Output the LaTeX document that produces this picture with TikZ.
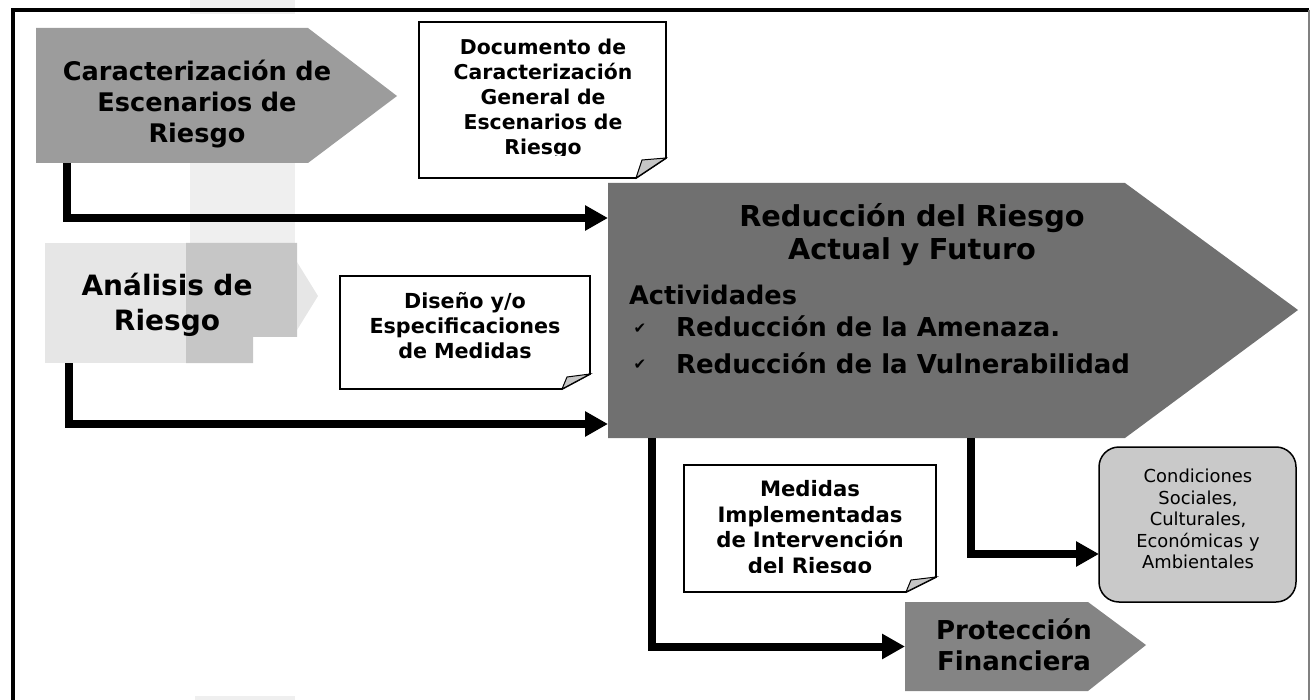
\documentclass[tikz,border=0pt]{standalone}
\usepackage{fontspec}
\setmainfont{DejaVu Sans}
\usetikzlibrary{arrows.meta,calc}
\definecolor{gA}{HTML}{9C9C9C}
\definecolor{gB}{HTML}{707070}
\definecolor{gC}{HTML}{848484}
\definecolor{gD}{HTML}{C9C9C9}
\definecolor{gL}{HTML}{E6E6E6}
\definecolor{gM}{HTML}{C6C6C6}
\definecolor{gS}{HTML}{EFEFEF}
\tikzset{
  x=1pt,y=-1pt,
  flow/.style={line width=8pt,-{Triangle[length=23pt,width=24pt]},black},
  notebox/.style={draw=black,line width=1.8pt,fill=white,line join=miter},
  foldmark/.style={draw=black,line width=1pt,fill=gray!45},
  holder/.style={inner sep=0pt,outer sep=0pt,align=center,text=black},
  tb/.style 2 args={font=\bfseries\fontsize{#1}{#2}\selectfont},
  tr/.style 2 args={font=\fontsize{#1}{#2}\selectfont},
}
\begin{document}
\begin{tikzpicture}
\useasboundingbox (0,0) rectangle (1311,700);
% scan smudges
\fill[gS] (190,0) rectangle (295,243);
\fill[white] (190,14) rectangle (295,28);
\fill[gS] (195,696) rectangle (295,700);
% frame
\draw[line width=3.5pt] (13,700) -- (13,10) -- (1309,10);
\draw[line width=1.5pt,gray] (1309,10) -- (1309,700);
% Caracterizacion
\fill[gA] (36,28) -- (308,28) -- (397,96) -- (308,163) -- (36,163) -- cycle;
\node[holder,minimum width=361pt,minimum height=135pt] (car) at (216.5,95.5) {};
\node[holder,tb={25.6}{31},text width=300pt] (cartxt) at (197,104) {Caracterización de\\Escenarios de\\Riesgo};
% Documento note
\draw[notebox] (419,22) -- (666,22) -- (666,158) -- (636,178) -- (419,178) -- cycle;
\draw[foldmark] (666,158) -- (636,178) -- (642,160) -- cycle;
\begin{scope}
\clip (419,22) rectangle (666,155.5);
\node[holder,tb={20.4}{25},text width=240pt] (doc) at (543,98.5) {Documento de\\Caracterización\\General de\\Escenarios de\\Riesgo};
\end{scope}
% Analisis
\fill[gL] (45,243) -- (186,243) -- (186,363) -- (45,363) -- cycle;
\fill[gM] (186,243) -- (297,243) -- (297,337) -- (253,337) -- (253,363) -- (186,363) -- cycle;
\fill[gL] (297,262) -- (318,296) -- (297,330) -- cycle;
\node[holder,minimum width=273pt,minimum height=120pt] (ana) at (181.5,303) {};
\node[holder,tb={28}{35},text width=260pt] (anatxt) at (167,305) {Análisis de\\Riesgo};
% Diseno note
\draw[notebox] (340,276) -- (590,276) -- (590,374) -- (562,389) -- (340,389) -- cycle;
\draw[foldmark] (590,374) -- (562,389) -- (567,377) -- cycle;
\node[holder,tb={20.7}{25},text width=240pt] (dis) at (465,326) {Diseño y/o\\Especificaciones\\de Medidas};
% Reduccion
\fill[gB] (608,183) -- (1125,183) -- (1298,310) -- (1125,438) -- (608,438) -- cycle;
\node[holder,minimum width=690pt,minimum height=255pt] (red) at (953,310.5) {};
\node[holder,tb={28.8}{33},text width=500pt] (redtit) at (912,234.5) {Reducción del Riesgo\\Actual y Futuro};
\node[holder,tb={25.6}{28},anchor=west] (act) at (629,295) {Actividades};
\node[holder,tr={15}{15}] (ck1) at (640,329) {✔};
\node[holder,tr={15}{15}] (ck2) at (640,365) {✔};
\node[holder,tb={26}{28},anchor=west] (it1) at (676,326) {Reducción de la Amenaza.};
\node[holder,tb={26}{28},anchor=west] (it2) at (676,363) {Reducción de la Vulnerabilidad};
% Medidas note
\draw[notebox] (684,465) -- (936,465) -- (936,577) -- (906,592) -- (684,592) -- cycle;
\draw[foldmark] (936,577) -- (906,592) -- (911,580) -- cycle;
\begin{scope}
\clip (684,465) rectangle (936,572);
\node[holder,tb={21.2}{25.5},text width=240pt] (med) at (810,529) {Medidas\\Implementadas\\de Intervención\\del Riesgo};
\end{scope}
% Condiciones
\node[draw=black,line width=1.5pt,fill=gD,rounded corners=20pt,minimum width=197pt,minimum height=155pt,inner sep=0pt,outer sep=0pt] (con) at (1197.5,524.5) {};
\node[holder,tr={17.9}{21.5},text width=190pt] (contxt) at (1198,519) {Condiciones\\Sociales,\\Culturales,\\Económicas y\\Ambientales};
% Proteccion
\fill[gC] (905,602) -- (1088,602) -- (1146,645) -- (1088,691) -- (905,691) -- cycle;
\node[holder,minimum width=241pt,minimum height=89pt] (pro) at (1025.5,646.5) {};
\node[holder,tb={26}{31},text width=200pt] (protxt) at (1014,644.5) {Protección\\Financiera};
% connectors
\draw[flow] ([xshift=31pt]car.south west) |- ([yshift=92.5pt]red.west);
\draw[flow] ([xshift=23.5pt]ana.south west) |- ([yshift=-113.5pt]red.west);
\draw[flow] ([xshift=44pt]red.south west) |- (pro.west);
\draw[flow] ([xshift=363pt]red.south west) |- ([yshift=-29.5pt]con.west);
\end{tikzpicture}
\end{document}
